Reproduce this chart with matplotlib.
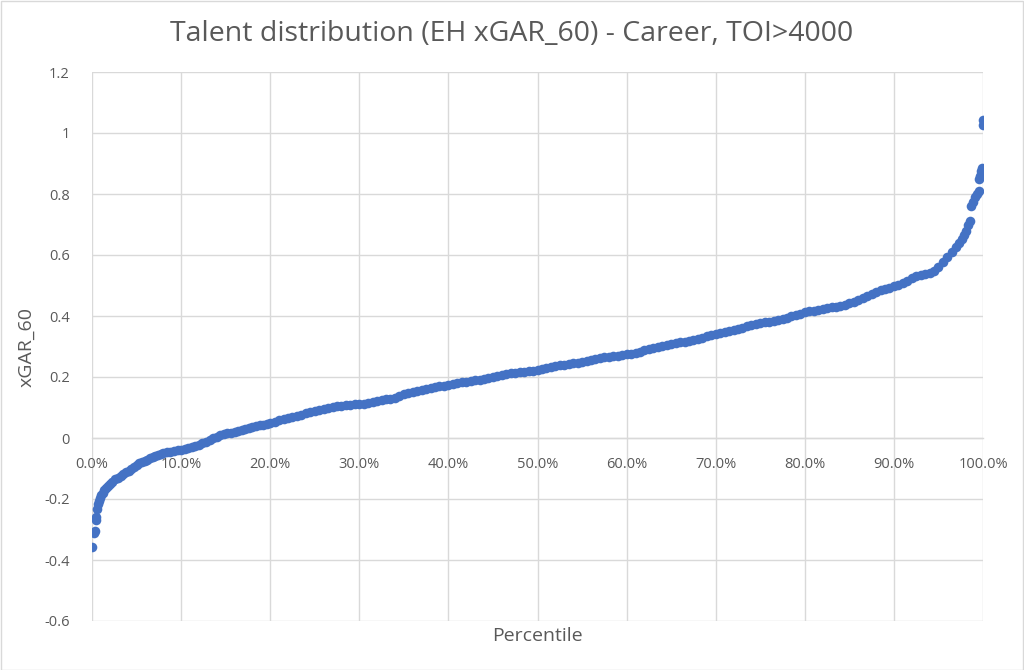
import matplotlib
matplotlib.use("Agg")
import matplotlib.pyplot as plt
from matplotlib.patches import Rectangle
from matplotlib.ticker import FuncFormatter

title = "Talent distribution (EH xGAR_60) - Career, TOI>4000"
x_label = "Percentile"
y_label = "xGAR_60"

percentile = [
    0.0, 0.2, 0.3, 0.4, 0.5, 0.6, 0.7, 0.8, 0.9, 1.0, 1.2, 1.4, 1.6, 1.8, 2.0,
    2.3, 2.6, 2.9, 3.2, 3.5, 3.8, 4.1, 4.4, 4.7, 5.0, 5.3, 5.6, 5.9, 6.2, 6.5,
    6.8, 7.1, 7.4, 7.7, 8.0, 8.4, 8.8, 9.2, 9.6, 10.0, 10.4, 10.8, 11.2, 11.6,
    12.0, 12.4, 12.8, 13.2, 13.6, 14.0, 14.4, 14.8, 15.2, 15.6, 16.0, 16.4,
    16.8, 17.2, 17.6, 18.0, 18.4, 18.8, 19.2, 19.6, 20.0, 20.5, 21.0, 21.5,
    22.0, 22.5, 23.0, 23.5, 24.0, 24.5, 25.0, 25.5, 26.0, 26.5, 27.0, 27.5,
    28.0, 28.5, 29.0, 29.5, 30.0, 30.5, 31.0, 31.5, 32.0, 32.5, 33.0, 33.5,
    34.0, 34.5, 35.0, 35.5, 36.0, 36.5, 37.0, 37.5, 38.0, 38.5, 39.0, 39.5,
    40.0, 40.5, 41.0, 41.5, 42.0, 42.5, 43.0, 43.5, 44.0, 44.5, 45.0, 45.5,
    46.0, 46.5, 47.0, 47.5, 48.0, 48.5, 49.0, 49.5, 50.0, 50.5, 51.0, 51.5,
    52.0, 52.5, 53.0, 53.5, 54.0, 54.5, 55.0, 55.5, 56.0, 56.5, 57.0, 57.5,
    58.0, 58.5, 59.0, 59.5, 60.0, 60.5, 61.0, 61.5, 62.0, 62.5, 63.0, 63.5,
    64.0, 64.5, 65.0, 65.5, 66.0, 66.5, 67.0, 67.5, 68.0, 68.5, 69.0, 69.5,
    70.0, 70.5, 71.0, 71.5, 72.0, 72.5, 73.0, 73.5, 74.0, 74.5, 75.0, 75.5,
    76.0, 76.5, 77.0, 77.5, 78.0, 78.5, 79.0, 79.5, 80.0, 80.5, 81.0, 81.5,
    82.0, 82.5, 83.0, 83.5, 84.0, 84.5, 85.0, 85.5, 86.0, 86.5, 87.0, 87.5,
    88.0, 88.5, 89.0, 89.5, 90.0, 90.5, 91.0, 91.5, 92.0, 92.5, 93.0, 93.5,
    94.0, 94.5, 95.0, 95.5, 96.0, 96.5, 97.0, 97.3, 97.6, 97.9, 98.1, 98.3,
    98.5, 98.7, 98.9, 99.1, 99.3, 99.5, 99.6, 99.7, 99.8, 99.9, 99.95, 100.0,
]

xgar_60 = [
    -0.356, -0.312, -0.305, -0.268, -0.258, -0.232, -0.215, -0.205, -0.196,
    -0.188, -0.180, -0.172, -0.165, -0.157, -0.150, -0.143, -0.136, -0.130,
    -0.125, -0.119, -0.113, -0.108, -0.102, -0.095, -0.089, -0.083, -0.079,
    -0.075, -0.071, -0.067, -0.063, -0.059, -0.056, -0.053, -0.050, -0.047,
    -0.045, -0.042, -0.040, -0.038, -0.035, -0.032, -0.029, -0.026, -0.022,
    -0.017, -0.012, -0.006, -0.001, 0.004, 0.009, 0.013, 0.016, 0.018, 0.021,
    0.024, 0.027, 0.030, 0.033, 0.036, 0.039, 0.041, 0.044, 0.047, 0.050,
    0.054, 0.058, 0.062, 0.066, 0.070, 0.073, 0.077, 0.081, 0.085, 0.089,
    0.092, 0.095, 0.098, 0.101, 0.104, 0.106, 0.108, 0.109, 0.110, 0.111,
    0.113, 0.116, 0.119, 0.122, 0.125, 0.127, 0.128, 0.132, 0.138, 0.143,
    0.147, 0.151, 0.155, 0.159, 0.162, 0.165, 0.167, 0.170, 0.172, 0.175,
    0.177, 0.180, 0.182, 0.185, 0.187, 0.189, 0.191, 0.193, 0.196, 0.199,
    0.203, 0.207, 0.210, 0.212, 0.214, 0.216, 0.218, 0.220, 0.221, 0.223,
    0.226, 0.229, 0.232, 0.235, 0.238, 0.240, 0.242, 0.245, 0.247, 0.250,
    0.253, 0.256, 0.258, 0.261, 0.264, 0.266, 0.268, 0.270, 0.272, 0.274,
    0.276, 0.279, 0.283, 0.288, 0.293, 0.296, 0.298, 0.301, 0.304, 0.308,
    0.311, 0.314, 0.316, 0.319, 0.322, 0.326, 0.329, 0.333, 0.337, 0.341,
    0.344, 0.347, 0.350, 0.354, 0.358, 0.362, 0.366, 0.370, 0.374, 0.377,
    0.379, 0.381, 0.384, 0.387, 0.391, 0.395, 0.399, 0.403, 0.408, 0.412,
    0.415, 0.418, 0.421, 0.424, 0.426, 0.428, 0.430, 0.433, 0.437, 0.441,
    0.446, 0.452, 0.459, 0.466, 0.472, 0.478, 0.484, 0.489, 0.493, 0.497,
    0.502, 0.508, 0.515, 0.523, 0.530, 0.535, 0.538, 0.541, 0.548, 0.562,
    0.578, 0.595, 0.610, 0.626, 0.638, 0.652, 0.666, 0.680, 0.700, 0.712,
    0.760, 0.775, 0.790, 0.800, 0.810, 0.850, 0.860, 0.876, 0.885, 1.025,
    1.043,
]

x_ticks = [0.0, 0.1, 0.2, 0.3, 0.4, 0.5, 0.6, 0.7, 0.8, 0.9, 1.0]
y_ticks = [-0.6, -0.4, -0.2, 0.0, 0.2, 0.4, 0.6, 0.8, 1.0, 1.2]
y_tick_labels = ["-0.6", "-0.4", "-0.2", "0", "0.2", "0.4", "0.6", "0.8", "1", "1.2"]

TEXT = "#595959"
GRID = "#D9D9D9"
BLUE = "#4472C4"

plt.rcParams["font.family"] = ["Open Sans", "DejaVu Sans"]

fig = plt.figure(figsize=(10.24, 6.70), dpi=100)
ax = fig.add_axes([92 / 1024, 1 - 621 / 670, (983 - 92) / 1024, (621 - 72) / 670])

xs = [p / 100.0 for p in percentile]
ax.scatter(xs, xgar_60, s=48, color=BLUE, linewidths=0, zorder=3)

ax.set_xlim(0, 1)
ax.set_ylim(-0.6, 1.2)
ax.set_xticks(x_ticks)
ax.set_yticks(y_ticks)
ax.set_yticklabels(y_tick_labels)
ax.xaxis.set_major_formatter(FuncFormatter(lambda v, p: f"{v * 100:.1f}%"))

ax.grid(True, color=GRID, linewidth=1.0, zorder=0)
for side in ["top", "right", "left"]:
    ax.spines[side].set_visible(False)
ax.spines["bottom"].set_position(("data", 0))
ax.spines["bottom"].set_color(GRID)
ax.spines["bottom"].set_linewidth(1.0)
ax.tick_params(axis="both", length=0, colors=TEXT, labelsize=10.5)
ax.tick_params(axis="x", pad=14)
ax.tick_params(axis="y", pad=16)

fig.text(512 / 1024, 1 - 41 / 670, title, ha="center", va="baseline",
         fontsize=20.5, color=TEXT)
fig.text(537 / 1024, 1 - 636 / 670, x_label, ha="center", va="center",
         fontsize=14, color=TEXT)
fig.text(26 / 1024, 1 - 347 / 670, y_label, ha="center", va="center",
         fontsize=14, color=TEXT, rotation=90)

fig.add_artist(Rectangle((0.5 / 1024, 0.5 / 670), 1 - 1.5 / 1024, 1 - 1.5 / 670,
                         transform=fig.transFigure, fill=False,
                         edgecolor=GRID, linewidth=1.0))

fig.savefig("out.png", dpi=100, facecolor="white")
